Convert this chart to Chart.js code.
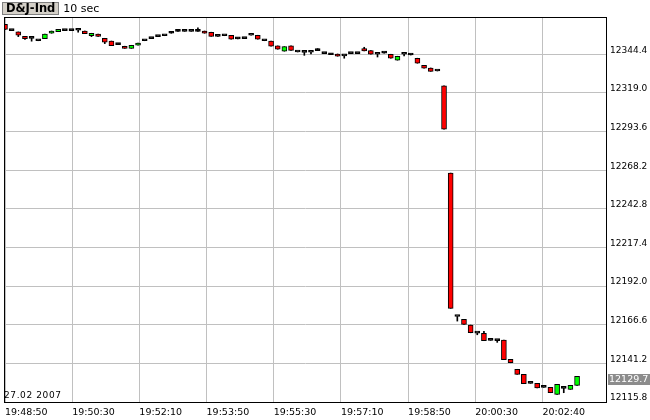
<!DOCTYPE html>
<html>
<head>
<meta charset="utf-8" />
<title>D&amp;J-Ind 10 sec</title>
<script src="https://cdn.jsdelivr.net/npm/chart.js@4.4.1/dist/chart.umd.min.js"></script>
<style>
  body { margin: 0; background: #fff; }
  .wrap { position: relative; width: 650px; height: 420px; }
  canvas { display: block; }
  .head { position: absolute; left: 2px; top: 2px; font-family: "DejaVu Sans", sans-serif; color: #000; white-space: nowrap; }
  .sym { display: inline-block; background: #d4d0c8; border: 1px solid #808080; font-weight: bold; font-size: 11.5px; line-height: 11px; height: 11px; padding: 0 3px; vertical-align: top; }
  .per { display: inline-block; font-size: 11px; line-height: 13px; margin-left: 4px; vertical-align: top; }
  .date { position: absolute; left: 4px; top: 391px; font-family: "DejaVu Sans", sans-serif; font-size: 9px; line-height: 9px; letter-spacing: 0.6px; color: #000; }
</style>
</head>
<body>
<div class="wrap">
  <canvas id="chart" width="650" height="420"></canvas>
  <div class="head"><span class="sym">D&amp;J-Ind</span><span class="per">10 sec</span></div>
  <div class="date">27.02 2007</div>
</div>
<script>
// 10 second candles, oldest first
const opens = [
  12364.1, 12359.9, 12359.1, 12356.2, 12354.9, 12353.3, 12354.7, 12358.2, 12359.3, 12359.9,
  12359.9, 12360.2, 12359.7, 12356.6, 12357.6, 12354.9, 12353.1, 12350.7, 12349.7, 12348.3,
  12350.3, 12353.3, 12354.7, 12356.0, 12356.6, 12358.2, 12359.5, 12359.5, 12359.5, 12359.5,
  12359.7, 12358.9, 12356.2, 12356.6, 12356.9, 12354.5, 12354.7, 12356.9, 12356.9, 12353.3,
  12353.0, 12349.9, 12346.4, 12349.9, 12345.9, 12345.6, 12345.7, 12346.8, 12344.8, 12344.1,
  12344.6, 12343.3, 12344.8, 12344.8, 12348.1, 12346.8, 12344.4, 12345.1, 12344.4, 12340.5,
  12344.4, 12343.9, 12341.8, 12337.2, 12335.4, 12333.4, 12323.6, 12266.3, 12172.0, 12170.1,
  12166.4, 12161.1, 12160.9, 12156.3, 12156.1, 12156.5, 12143.8, 12137.3, 12134.0, 12128.0,
  12128.0, 12125.4, 12125.4, 12120.8, 12124.8, 12124.1, 12126.7
];
const highs = [
  12364.1, 12359.9, 12359.1, 12356.2, 12354.9, 12353.3, 12357.6, 12359.7, 12360.8, 12359.9,
  12359.9, 12360.2, 12359.7, 12358.2, 12357.6, 12354.9, 12353.1, 12351.4, 12349.7, 12350.3,
  12351.8, 12353.3, 12354.7, 12356.0, 12356.6, 12359.1, 12360.4, 12359.5, 12359.5, 12361.7,
  12359.7, 12358.9, 12356.2, 12356.6, 12356.9, 12355.3, 12354.7, 12356.9, 12356.9, 12353.3,
  12353.0, 12349.9, 12349.4, 12349.9, 12345.9, 12345.6, 12345.7, 12348.1, 12344.8, 12344.8,
  12344.6, 12343.3, 12344.8, 12344.8, 12349.0, 12346.8, 12344.4, 12345.9, 12344.4, 12343.1,
  12344.4, 12344.6, 12341.8, 12337.2, 12335.4, 12333.4, 12323.6, 12266.3, 12172.0, 12170.1,
  12166.4, 12161.1, 12162.2, 12156.3, 12156.1, 12156.5, 12143.8, 12137.3, 12134.0, 12128.0,
  12128.0, 12125.4, 12125.4, 12127.4, 12124.8, 12126.7, 12132.7
];
const lows = [
  12360.8, 12359.9, 12356.0, 12354.2, 12353.0, 12353.3, 12354.7, 12358.2, 12359.3, 12359.9,
  12359.9, 12358.9, 12358.0, 12356.0, 12356.2, 12351.4, 12350.1, 12350.7, 12348.3, 12348.3,
  12350.3, 12353.3, 12354.7, 12356.0, 12356.6, 12358.2, 12359.5, 12359.5, 12359.5, 12359.5,
  12358.2, 12356.2, 12356.2, 12356.6, 12354.3, 12354.5, 12354.7, 12356.9, 12354.3, 12353.3,
  12349.7, 12347.7, 12346.4, 12347.0, 12345.9, 12343.7, 12344.6, 12346.8, 12344.8, 12344.1,
  12343.1, 12341.8, 12344.8, 12344.8, 12346.6, 12344.4, 12342.6, 12345.1, 12341.8, 12340.5,
  12343.3, 12343.9, 12338.5, 12335.2, 12333.2, 12333.4, 12295.1, 12177.4, 12169.0, 12166.8,
  12161.3, 12160.0, 12156.1, 12156.3, 12155.0, 12143.6, 12141.6, 12134.0, 12127.8, 12128.0,
  12125.1, 12125.4, 12121.9, 12120.8, 12121.9, 12124.1, 12126.7
];
const closes = [
  12360.8, 12359.9, 12356.9, 12354.7, 12354.9, 12353.3, 12357.6, 12359.7, 12360.8, 12359.9,
  12359.9, 12360.2, 12358.0, 12358.2, 12356.2, 12352.3, 12350.1, 12350.7, 12348.3, 12350.3,
  12351.8, 12353.3, 12354.7, 12356.0, 12356.6, 12358.2, 12359.5, 12359.5, 12359.5, 12359.5,
  12358.2, 12356.2, 12356.2, 12356.6, 12354.3, 12354.5, 12354.7, 12356.9, 12354.3, 12353.3,
  12349.7, 12347.7, 12349.4, 12347.0, 12345.9, 12345.6, 12345.7, 12346.8, 12344.8, 12344.1,
  12343.1, 12343.3, 12344.8, 12344.8, 12346.6, 12344.4, 12344.4, 12345.1, 12341.8, 12343.1,
  12344.4, 12343.9, 12338.5, 12335.2, 12333.2, 12333.4, 12295.1, 12177.4, 12172.0, 12166.8,
  12161.3, 12161.1, 12156.1, 12156.3, 12156.1, 12143.6, 12141.6, 12134.0, 12127.8, 12128.0,
  12125.1, 12125.4, 12121.9, 12127.4, 12124.8, 12126.7, 12132.7
];

const timeTicks = ['19:48:50', '19:50:30', '19:52:10', '19:53:50', '19:55:30',
                   '19:57:10', '19:58:50', '20:00:30', '20:02:40'];
const priceTicks = [12115.8, 12141.2, 12166.6, 12192.0, 12217.4,
                    12242.8, 12268.2, 12293.6, 12319.0, 12344.4];
const lastPrice = 12129.7;

const gridStep = 10.1; // time grid of the source drifts a little against the bars

Chart.defaults.font.family = "'DejaVu Sans', sans-serif";
Chart.defaults.font.size = 9;
Chart.defaults.color = '#000';

function bodyColor(ctx) {
  const i = ctx.dataIndex;
  if (closes[i] > opens[i]) return '#00ff00';
  if (closes[i] < opens[i]) return '#ff0000';
  return '#000000';
}

// frame round the plot area
const framePlugin = {
  id: 'frame',
  afterDatasetsDraw(chart) {
    const { ctx, chartArea: a } = chart;
    ctx.save();
    ctx.strokeStyle = '#000';
    ctx.lineWidth = 1;
    ctx.strokeRect(a.left - 0.5, a.top + 0.5, a.right - a.left + 1, a.bottom - a.top);
    ctx.restore();
  }
};

// grey box with the last price on the price axis
const lastPricePlugin = {
  id: 'lastPrice',
  afterDraw(chart) {
    const { ctx, chartArea: a } = chart;
    const y = Math.round(chart.scales.y.getPixelForValue(lastPrice));
    ctx.save();
    ctx.fillStyle = '#8c8c8c';
    ctx.fillRect(a.right + 2, y - 7, chart.width - a.right - 2, 11);
    ctx.fillStyle = '#fff';
    ctx.font = "9.5px 'DejaVu Sans', sans-serif";
    ctx.textBaseline = 'middle';
    ctx.fillText(lastPrice.toFixed(1), a.right + 3, y - 1.5);
    ctx.restore();
  }
};

new Chart(document.getElementById('chart'), {
  type: 'bar',
  data: {
    datasets: [
      {
        label: 'body',
        data: opens.map((o, i) => ({ x: i, y: [o, closes[i]] })),
        backgroundColor: bodyColor,
        borderColor: '#000',
        borderWidth: 1,
        borderSkipped: false,
        barThickness: 5,
        minBarLength: 2,
        grouped: false,
        order: 1
      },
      {
        label: 'wick',
        data: lows.map((l, i) => ({ x: i, y: [l, highs[i]] })),
        backgroundColor: '#000',
        borderWidth: 0,
        barThickness: 1,
        grouped: false,
        order: 2
      }
    ]
  },
  options: {
    responsive: false,
    animation: false,
    layout: { padding: { left: 3, top: 17, right: 0, bottom: 0 } },
    plugins: {
      legend: { display: false },
      tooltip: { enabled: false },
      title: { display: false }
    },
    scales: {
      x: {
        type: 'linear',
        min: 0,
        max: 90.35,
        offset: false,
        afterBuildTicks: axis => {
          axis.ticks = timeTicks.map((t, k) => ({ value: k * gridStep }));
        },
        afterFit: axis => { axis.height = 18; },
        grid: { color: '#c0c0c0', drawTicks: false, offset: false },
        border: { display: false },
        ticks: {
          autoSkip: false,
          maxRotation: 0,
          align: 'start',
          padding: 5,
          font: { size: 9.5 },
          callback: (v, k) => timeTicks[k]
        }
      },
      y: {
        type: 'linear',
        position: 'right',
        min: 12115.8,
        max: 12368.9,
        afterBuildTicks: axis => {
          axis.ticks = priceTicks.map(v => ({ value: v }));
        },
        afterFit: axis => { axis.width = 44; },
        grid: { color: '#c0c0c0', drawTicks: false },
        border: { display: false },
        ticks: {
          padding: 4,
          labelOffset: -4,
          callback: v => v.toFixed(1)
        }
      }
    }
  },
  plugins: [framePlugin, lastPricePlugin]
});
</script>
</body>
</html>
